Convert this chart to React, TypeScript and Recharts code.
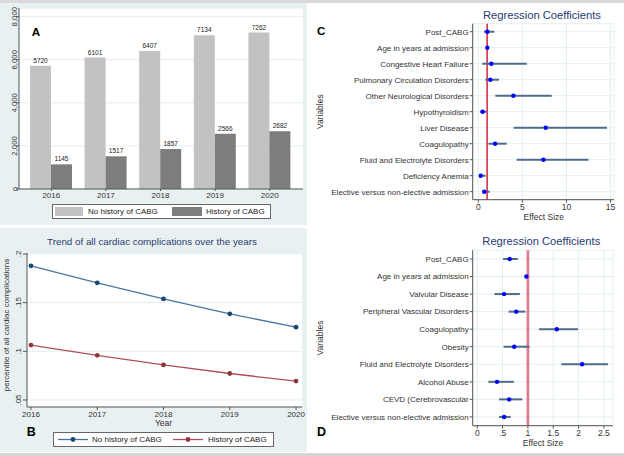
import React from 'react';
import {
  BarChart, Bar, XAxis, YAxis, CartesianGrid, LabelList,
  LineChart, Line, ScatterChart, Scatter, ErrorBar, ReferenceLine,
} from 'recharts';

// Panel A: counts by year
const years = [2016, 2017, 2018, 2019, 2020];
const noHistoryCount = [5720, 6101, 6407, 7134, 7262];
const historyCount = [1145, 1517, 1857, 2566, 2682];
const countTicks = [0, 2000, 4000, 6000, 8000];

// Panel B: trend of cardiac complications
const noHistoryRate = [0.1878, 0.1704, 0.1538, 0.1385, 0.1248];
const historyRate = [0.1064, 0.0959, 0.086, 0.0772, 0.0694];
const rateTicks = [0.05, 0.1, 0.15, 0.2];

// Panel C: regression coefficients
const cLabels = [
  'Post_CABG', 'Age in years at admission', 'Congestive Heart Failure',
  'Pulmonary Circulation Disorders', 'Other Neurological Disorders', 'Hypothyroidism',
  'Liver Disease', 'Coagulopathy', 'Fluid and Electrolyte Disorders',
  'Deficiency Anemia', 'Elective versus non-elective admission',
];
const cCoef = [1.02, 1.02, 1.48, 1.36, 3.98, 0.49, 7.65, 1.9, 7.39, 0.27, 0.68];
const cLow = [0.64, 0.97, 0.45, 0.8, 1.93, 0.19, 4.0, 1.14, 4.36, 0.08, 0.45];
const cHigh = [1.82, 1.08, 5.5, 2.35, 8.33, 0.95, 14.6, 3.22, 12.5, 0.83, 1.29];
const cTicks = [0, 5, 10, 15];

// Panel D: regression coefficients
const dLabels = [
  'Post_CABG', 'Age in years at admission', 'Valvular Disease',
  'Peripheral Vascular Disorders', 'Coagulopathy', 'Obesity',
  'Fluid and Electrolyte Disorders', 'Alcohol Abuse', 'CEVD (Cerebrovascular',
  'Elective versus non-elective admission',
];
const dCoef = [0.64, 0.97, 0.53, 0.77, 1.57, 0.73, 2.07, 0.39, 0.63, 0.53];
const dLow = [0.51, 0.95, 0.34, 0.62, 1.22, 0.52, 1.66, 0.22, 0.43, 0.43];
const dHigh = [0.8, 0.99, 0.84, 0.95, 1.99, 1.03, 2.58, 0.72, 0.89, 0.66];
const dTicks = [0, 0.5, 1, 1.5, 2, 2.5];
const dTickLabels = ['0', '.5', '1', '1.5', '2', '2.5'];

const FONT = '"Liberation Sans", Arial, sans-serif';
const BG = '#e9f0f2';
const GRID = '#e4eef1';
const AXIS = '#555';

const countData = years.map((y, i) => ({ year: String(y), noHistory: noHistoryCount[i], history: historyCount[i] }));
const rateData = years.map((y, i) => ({ year: y, noHistory: noHistoryRate[i], history: historyRate[i] }));
const coefRows = (coef: number[], low: number[], high: number[]) =>
  coef.map((c, i) => ({ row: i + 1, coef: c, err: [c - low[i], high[i] - c] }));
const cData = coefRows(cCoef, cLow, cHigh);
const dData = coefRows(dCoef, dLow, dHigh);

// vertical tick text, reading bottom to top, like Stata's y labels
const rotTick = (fmt: (v: number) => string, size: number, shift: number) => (p: any) => {
  const x = p.x + shift;
  return (
    <text x={x} y={p.y} transform={`rotate(-90 ${x} ${p.y})`} textAnchor="middle" fontSize={size} fill="#333">
      {fmt(p.payload.value)}
    </text>
  );
};

// row labels without wrapping
const rowTick = (labels: string[]) => (p: any) => (
  <text x={p.x} y={p.y} dy="0.35em" textAnchor="end" fontSize={8} fill="#333">
    {labels[p.payload.value - 1]}
  </text>
);

const fmtRate = (v: number) => String(v).replace(/^0/, '');
const dot = (fill: string) => (p: any) => <circle key={p.index} cx={p.cx} cy={p.cy} r={2.4} fill={fill} />;
const bluePoint = (p: any) => <circle cx={p.cx} cy={p.cy} r={2.2} fill="#0000ff" />;

const abs = (left: number, top: number): React.CSSProperties => ({ position: 'absolute', left, top });

export default function App() {
  return (
    <div style={{ position: 'absolute', left: 0, top: 0, width: 624, height: 456, background: '#fff', fontFamily: FONT, overflow: 'hidden' }}>
      <div style={{ ...abs(0, 0), width: 624, height: 3, background: '#dadada' }} />
      <div style={{ ...abs(0, 3), width: 307, height: 222, background: BG }} />
      <div style={{ ...abs(0, 228), width: 307, height: 224, background: BG }} />
      <div style={{ ...abs(0, 453), width: 624, height: 3, background: '#d6d6d6' }} />

      {/* A */}
      <div style={abs(0, 0)}>
        <BarChart width={306} height={226} data={countData} margin={{ top: 8, right: 3, left: 0, bottom: 0 }} barGap={0}>
          <CartesianGrid vertical={false} stroke={GRID} fill="#fff" />
          <XAxis dataKey="year" height={37} padding={{ left: 5, right: 6 }} tickSize={2} tickMargin={1}
            tick={{ fontSize: 8, fill: '#333' }} stroke={AXIS} />
          <YAxis width={19} domain={[0, 8400]} ticks={countTicks} tickSize={3} tickMargin={1} stroke={AXIS}
            tick={rotTick((v) => v.toLocaleString('en-US'), 7.8, 2.5)} />
          <Bar dataKey="noHistory" fill="#c2c2c2" barSize={21} isAnimationActive={false}>
            <LabelList dataKey="noHistory" position="top" offset={3} fontSize={6.5} fill="#222" />
          </Bar>
          <Bar dataKey="history" fill="#7d7d7d" barSize={21} isAnimationActive={false}>
            <LabelList dataKey="history" position="top" offset={3} fontSize={6.5} fill="#222" />
          </Bar>
        </BarChart>
      </div>

      {/* B */}
      <div style={abs(0, 226)}>
        <LineChart width={306} height={226} data={rateData} margin={{ top: 27, right: 4, left: 0, bottom: 0 }}>
          <CartesianGrid vertical={false} stroke={GRID} fill="#fff" />
          <XAxis dataKey="year" type="number" domain={[2015.94, 2020.09]} ticks={years} height={45}
            tickSize={3} tickMargin={1} tick={{ fontSize: 8, fill: '#333' }} stroke={AXIS} />
          <YAxis width={27} domain={[0.0428, 0.201]} ticks={rateTicks} tickSize={4} tickMargin={4} stroke={AXIS}
            tick={rotTick(fmtRate, 8, 2)} />
          <Line dataKey="noHistory" stroke="#4a74a0" strokeWidth={1.3} dot={dot('#1a476f')} isAnimationActive={false} />
          <Line dataKey="history" stroke="#b0505c" strokeWidth={1.3} dot={dot('#90353b')} isAnimationActive={false} />
        </LineChart>
      </div>

      {/* C */}
      <div style={abs(310, 0)}>
        <ScatterChart width={314} height={226} margin={{ top: 23.7, right: 10, left: 0, bottom: 0 }}>
          <CartesianGrid stroke={GRID} />
          <XAxis dataKey="coef" type="number" domain={[-0.64, 15.4]} ticks={cTicks} height={26.3}
            tickSize={3} tickMargin={1.5} tick={{ fontSize: 8.5, fill: '#333' }} stroke={AXIS} />
          <YAxis dataKey="row" type="number" domain={[0.5, 11.5]} reversed ticks={cLabels.map((_, i) => i + 1)}
            interval={0} width={162.7} tickSize={3} tickMargin={1} stroke={AXIS} tick={rowTick(cLabels)} />
          <ReferenceLine x={1} stroke="#d6334a" strokeWidth={1.6} />
          <Scatter data={cData} shape={bluePoint} isAnimationActive={false}>
            <ErrorBar dataKey="err" direction="x" width={0} stroke="#4f6b8a" strokeWidth={2} isAnimationActive={false} />
          </Scatter>
        </ScatterChart>
      </div>

      {/* D */}
      <div style={abs(310, 226)}>
        <ScatterChart width={314} height={230} margin={{ top: 24.2, right: 11, left: 0, bottom: 0 }}>
          <CartesianGrid stroke={GRID} />
          <XAxis dataKey="coef" type="number" domain={[-0.09, 2.68]} ticks={dTicks} height={30.3}
            tickSize={3} tickMargin={1.5} tick={{ fontSize: 8.5, fill: '#333' }} stroke={AXIS}
            tickFormatter={(v: number) => dTickLabels[dTicks.indexOf(v)]} />
          <YAxis dataKey="row" type="number" domain={[0.5, 10.5]} reversed ticks={dLabels.map((_, i) => i + 1)}
            interval={0} width={162.7} tickSize={3} tickMargin={1} stroke={AXIS} tick={rowTick(dLabels)} />
          <ReferenceLine x={1} stroke="#de7f94" strokeWidth={2.8} />
          <Scatter data={dData} shape={bluePoint} isAnimationActive={false}>
            <ErrorBar dataKey="err" direction="x" width={0} stroke="#4f6b8a" strokeWidth={2} isAnimationActive={false} />
          </Scatter>
        </ScatterChart>
      </div>

      {/* titles, letters, legends */}
      <svg width={624} height={456} style={{ ...abs(0, 0), pointerEvents: 'none' }} fontFamily={FONT}>
        <text x={31.7} y={35.7} fontSize={11.7} fontWeight="bold" fill="#000">A</text>
        <text x={26.7} y={435.7} fontSize={12.5} fontWeight="bold" fill="#000">B</text>
        <text x={317} y={35} fontSize={11.5} fontWeight="bold" fill="#000">C</text>
        <text x={317} y={435.7} fontSize={12.5} fontWeight="bold" fill="#000">D</text>

        <text x={152} y={245} fontSize={9.8} fill="#2a4170" textAnchor="middle">Trend of all cardiac complications over the years</text>
        <text x={163.5} y={425.5} fontSize={8.5} fill="#333" textAnchor="middle">Year</text>
        <text x={8.8} y={325} fontSize={8} fill="#333" textAnchor="middle" transform="rotate(-90 8.8 325)">percentile of all cardiac complications</text>

        <text x={542} y={19} fontSize={11.2} fill="#1f3c73" textAnchor="middle">Regression Coefficients</text>
        <text x={543.8} y={220} fontSize={8.5} fill="#333" textAnchor="middle">Effect Size</text>
        <text x={323.3} y={111.7} fontSize={8.5} fill="#333" textAnchor="middle" transform="rotate(-90 323.3 111.7)">Variables</text>

        <text x={541.3} y={245} fontSize={11.2} fill="#1f3c73" textAnchor="middle">Regression Coefficients</text>
        <text x={543} y={445.5} fontSize={8.5} fill="#333" textAnchor="middle">Effect Size</text>
        <text x={322.7} y={338} fontSize={8.5} fill="#333" textAnchor="middle" transform="rotate(-90 322.7 338)">Variables</text>

        <rect x={52.5} y={204.5} width={218} height={14} fill="#fff" stroke="#666" />
        <rect x={55} y={207} width={28} height={9} fill="#c2c2c2" />
        <text x={88} y={213.5} fontSize={8} fill="#222">No history of CABG</text>
        <rect x={172} y={207} width={30} height={9} fill="#7d7d7d" />
        <text x={206} y={213.5} fontSize={8} fill="#222">History of CABG</text>

        <rect x={53.5} y={432.5} width={220} height={14} fill="#fff" stroke="#666" />
        <line x1={58} x2={88} y1={439.5} y2={439.5} stroke="#4a74a0" strokeWidth={1.3} />
        <circle cx={73} cy={439.5} r={2.4} fill="#1a476f" />
        <text x={92} y={441.5} fontSize={8} fill="#222">No history of CABG</text>
        <line x1={173} x2={203} y1={439.5} y2={439.5} stroke="#b0505c" strokeWidth={1.3} />
        <circle cx={188} cy={439.5} r={2.4} fill="#90353b" />
        <text x={208} y={441.5} fontSize={8} fill="#222">History of CABG</text>
      </svg>
    </div>
  );
}
